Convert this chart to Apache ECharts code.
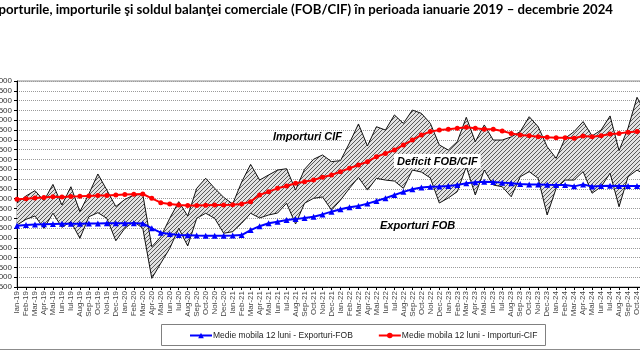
<!DOCTYPE html>
<html>
<head>
<meta charset="utf-8">
<script src="https://cdn.jsdelivr.net/npm/echarts@6/dist/echarts.min.js"></script>
<style>
html,body{margin:0;padding:0;background:#fff;}
#c{width:640px;height:358px;}
</style>
</head>
<body>
<div id="c"></div>
<script>
const categories = [
'Ian-19','Feb-19','Mar-19','Apr-19','Mai-19','Iun-19','Iul-19','Aug-19','Sep-19','Oct-19','Noi-19','Dec-19',
'Ian-20','Feb-20','Mar-20','Apr-20','Mai-20','Iun-20','Iul-20','Aug-20','Sep-20','Oct-20','Noi-20','Dec-20',
'Ian-21','Feb-21','Mar-21','Apr-21','Mai-21','Iun-21','Iul-21','Aug-21','Sep-21','Oct-21','Noi-21','Dec-21',
'Ian-22','Feb-22','Mar-22','Apr-22','Mai-22','Iun-22','Iul-22','Aug-22','Sep-22','Oct-22','Noi-22','Dec-22',
'Ian-23','Feb-23','Mar-23','Apr-23','Mai-23','Iun-23','Iul-23','Aug-23','Sep-23','Oct-23','Noi-23','Dec-23',
'Ian-24','Feb-24','Mar-24','Apr-24','Mai-24','Iun-24','Iul-24','Aug-24','Sep-24','Oct-24','Noi-24','Dec-24'
];
// Monthly imports CIF (mil. euro)
const importsCIF = [
6780,7140,7410,6900,7730,6680,7610,6340,7240,8260,7440,6600,
6960,7190,7220,4550,5060,6000,6850,6120,7530,8040,7530,7070,
6730,7850,8750,7950,8210,8460,8530,7440,8500,9010,9230,8890,
8940,9840,10810,9690,10670,10500,11270,10840,11520,11350,10840,9740,
9480,9910,11150,9910,10760,9990,9990,10150,10420,11180,10670,9650,
9060,10080,10420,10930,10200,10500,11220,9450,10600,12170,11300,9300
];
// Monthly exports FOB (mil. euro)
const exportsFOB = [
5660,5950,6120,5490,6260,5540,5830,4980,6080,6290,6000,4860,
5490,5830,5490,2940,3710,4470,5490,4590,6000,6260,6000,5240,
5320,5750,6260,6020,6170,6270,6770,5710,6770,7020,7090,6420,
6930,7530,8090,7440,8040,7950,7900,7530,8460,8360,8060,6780,
7040,7360,8630,7190,8460,7700,7610,7100,8120,8380,8040,6170,
7530,7950,7950,8380,7280,7610,8300,6590,8120,8460,8200,6300
];
// 12-month moving average - exports FOB
const maExports = [
5620,5660,5690,5700,5710,5720,5730,5730,5740,5740,5750,5750,
5750,5750,5740,5490,5270,5200,5150,5140,5120,5110,5110,5110,
5120,5150,5400,5600,5750,5830,5910,5960,6020,6080,6200,6340,
6460,6560,6630,6750,6880,7030,7190,7350,7480,7570,7610,7620,
7650,7700,7790,7840,7870,7850,7820,7790,7750,7730,7730,7710,
7700,7700,7630,7730,7620,7650,7660,7650,7650,7650,7660,7680
];
// 12-month moving average - imports CIF
const maImports = [
6970,7000,7040,7060,7100,7090,7110,7120,7140,7160,7170,7190,
7210,7230,7240,7020,6800,6730,6680,6660,6660,6670,6680,6680,
6690,6730,6850,7190,7360,7530,7650,7790,7870,7950,8090,8210,
8380,8550,8720,8890,9140,9310,9480,9740,9990,10250,10420,10500,
10540,10590,10640,10590,10540,10540,10450,10330,10250,10210,10160,10130,
10110,10110,10080,10200,10160,10210,10300,10330,10390,10420,10450,10430
];
const yMin = 2500, yMax = 13000, yStep = 500;

const gapData = importsCIF.map((v, i) => v - exportsFOB[i]);

// hatch pattern
const pc = document.createElement('canvas');
pc.width = 4; pc.height = 4;
const px = pc.getContext('2d');
px.fillStyle = '#e2e2e2';
px.fillRect(0, 0, 4, 4);
px.strokeStyle = '#5a5a5a';
px.lineWidth = 1;
px.beginPath();
px.moveTo(-1, 5); px.lineTo(5, -1);
px.moveTo(-1, 1); px.lineTo(1, -1);
px.moveTo(3, 5); px.lineTo(5, 3);
px.stroke();

const chart = echarts.init(document.getElementById('c'), null, {renderer: 'canvas'});
const nameX = 'Medie mobila 12 luni - Exporturi-FOB';
const nameM = 'Medie mobila 12 luni - Importuri-CIF';
chart.setOption({
  animation: false,
  backgroundColor: '#fff',
  grid: {left: 17, top: 81, width: 638, height: 206, containLabel: false, outerBoundsMode: 'none',
         show: true, borderColor: '#8c8c8c', borderWidth: 1, backgroundColor: 'transparent'},
  legend: {
    data: [nameX, nameM],
    left: 189, top: 331,
    itemWidth: 22, itemHeight: 7, itemGap: 25,
    textStyle: {fontSize: 8.5, color: '#222', fontFamily: 'Liberation Sans', padding: [0,0,0,-4]},
    padding: 0
  },
  xAxis: {
    type: 'category', data: categories, boundaryGap: false,
    axisLine: {lineStyle: {color: '#000', width: 1}},
    axisTick: {show: true, interval: 0, length: 3, lineStyle: {color: '#000'}},
    axisLabel: {interval: 0, rotate: 90, fontSize: 8, color: '#444', fontFamily: 'Liberation Sans', margin: 4, hideOverlap: false},
    splitLine: {show: false}
  },
  yAxis: {
    type: 'value', min: yMin, max: yMax, interval: yStep,
    axisLine: {show: true, lineStyle: {color: '#000', width: 1}},
    axisTick: {show: true, length: 3, lineStyle: {color: '#000'}},
    axisLabel: {fontSize: 8, color: '#333', fontFamily: 'Liberation Sans', margin: 5, formatter: function (v) { return String(v); }},
    splitLine: {show: true, lineStyle: {color: '#9a9a9a', type: 'dotted', width: 1}}
  },
  series: [
    {name: 'Exporturi FOB', type: 'line', stack: 'band', data: exportsFOB, symbol: 'none',
     lineStyle: {color: '#111', width: 1}, areaStyle: {opacity: 0}, z: 2, silent: true},
    {name: 'Importuri CIF', type: 'line', stack: 'band', data: gapData, symbol: 'none',
     lineStyle: {color: '#111', width: 1}, areaStyle: {color: {image: pc, repeat: 'repeat'}, opacity: 1}, z: 2, silent: true},
    {name: nameM, type: 'line', data: maImports, symbol: 'circle', symbolSize: 5,
     lineStyle: {color: '#ff0000', width: 2}, itemStyle: {color: '#ff0000'}, z: 4},
    {name: nameX, type: 'line', data: maExports, symbol: 'triangle', symbolSize: 6,
     lineStyle: {color: '#0000ff', width: 2}, itemStyle: {color: '#0000ff'}, z: 5}
  ],
  graphic: [
    {type: 'text', z: 100, right: 27, top: 3, style: {text: 'Exporturile, importurile şi soldul balanţei comerciale (FOB/CIF) în perioada ianuarie 2019 – decembrie 2024', font: 'bold 13.2px Lato', fill: '#000'}},
    {type: 'text', z: 100, left: 273, top: 131, style: {text: 'Importuri CIF', font: 'italic bold 11px "Liberation Sans"', fill: '#000'}},
    {type: 'text', z: 100, left: 394, top: 154, style: {text: 'Deficit FOB/CIF', font: 'italic bold 11px "Liberation Sans"', fill: '#000', backgroundColor: '#fff', padding: [2, 3, 1, 3]}},
    {type: 'text', z: 100, left: 380, top: 220, style: {text: 'Exporturi FOB', font: 'italic bold 11px "Liberation Sans"', fill: '#000'}},
    {type: 'rect', z: 100, shape: {x: 161.5, y: 324.5, width: 384, height: 21}, style: {fill: 'none', stroke: '#808080', lineWidth: 1}},
    {type: 'line', z: 100, shape: {x1: 0, y1: 349.5, x2: 640, y2: 349.5}, style: {stroke: '#8c8c8c', lineWidth: 1}}
  ]
});
</script>
</body>
</html>
